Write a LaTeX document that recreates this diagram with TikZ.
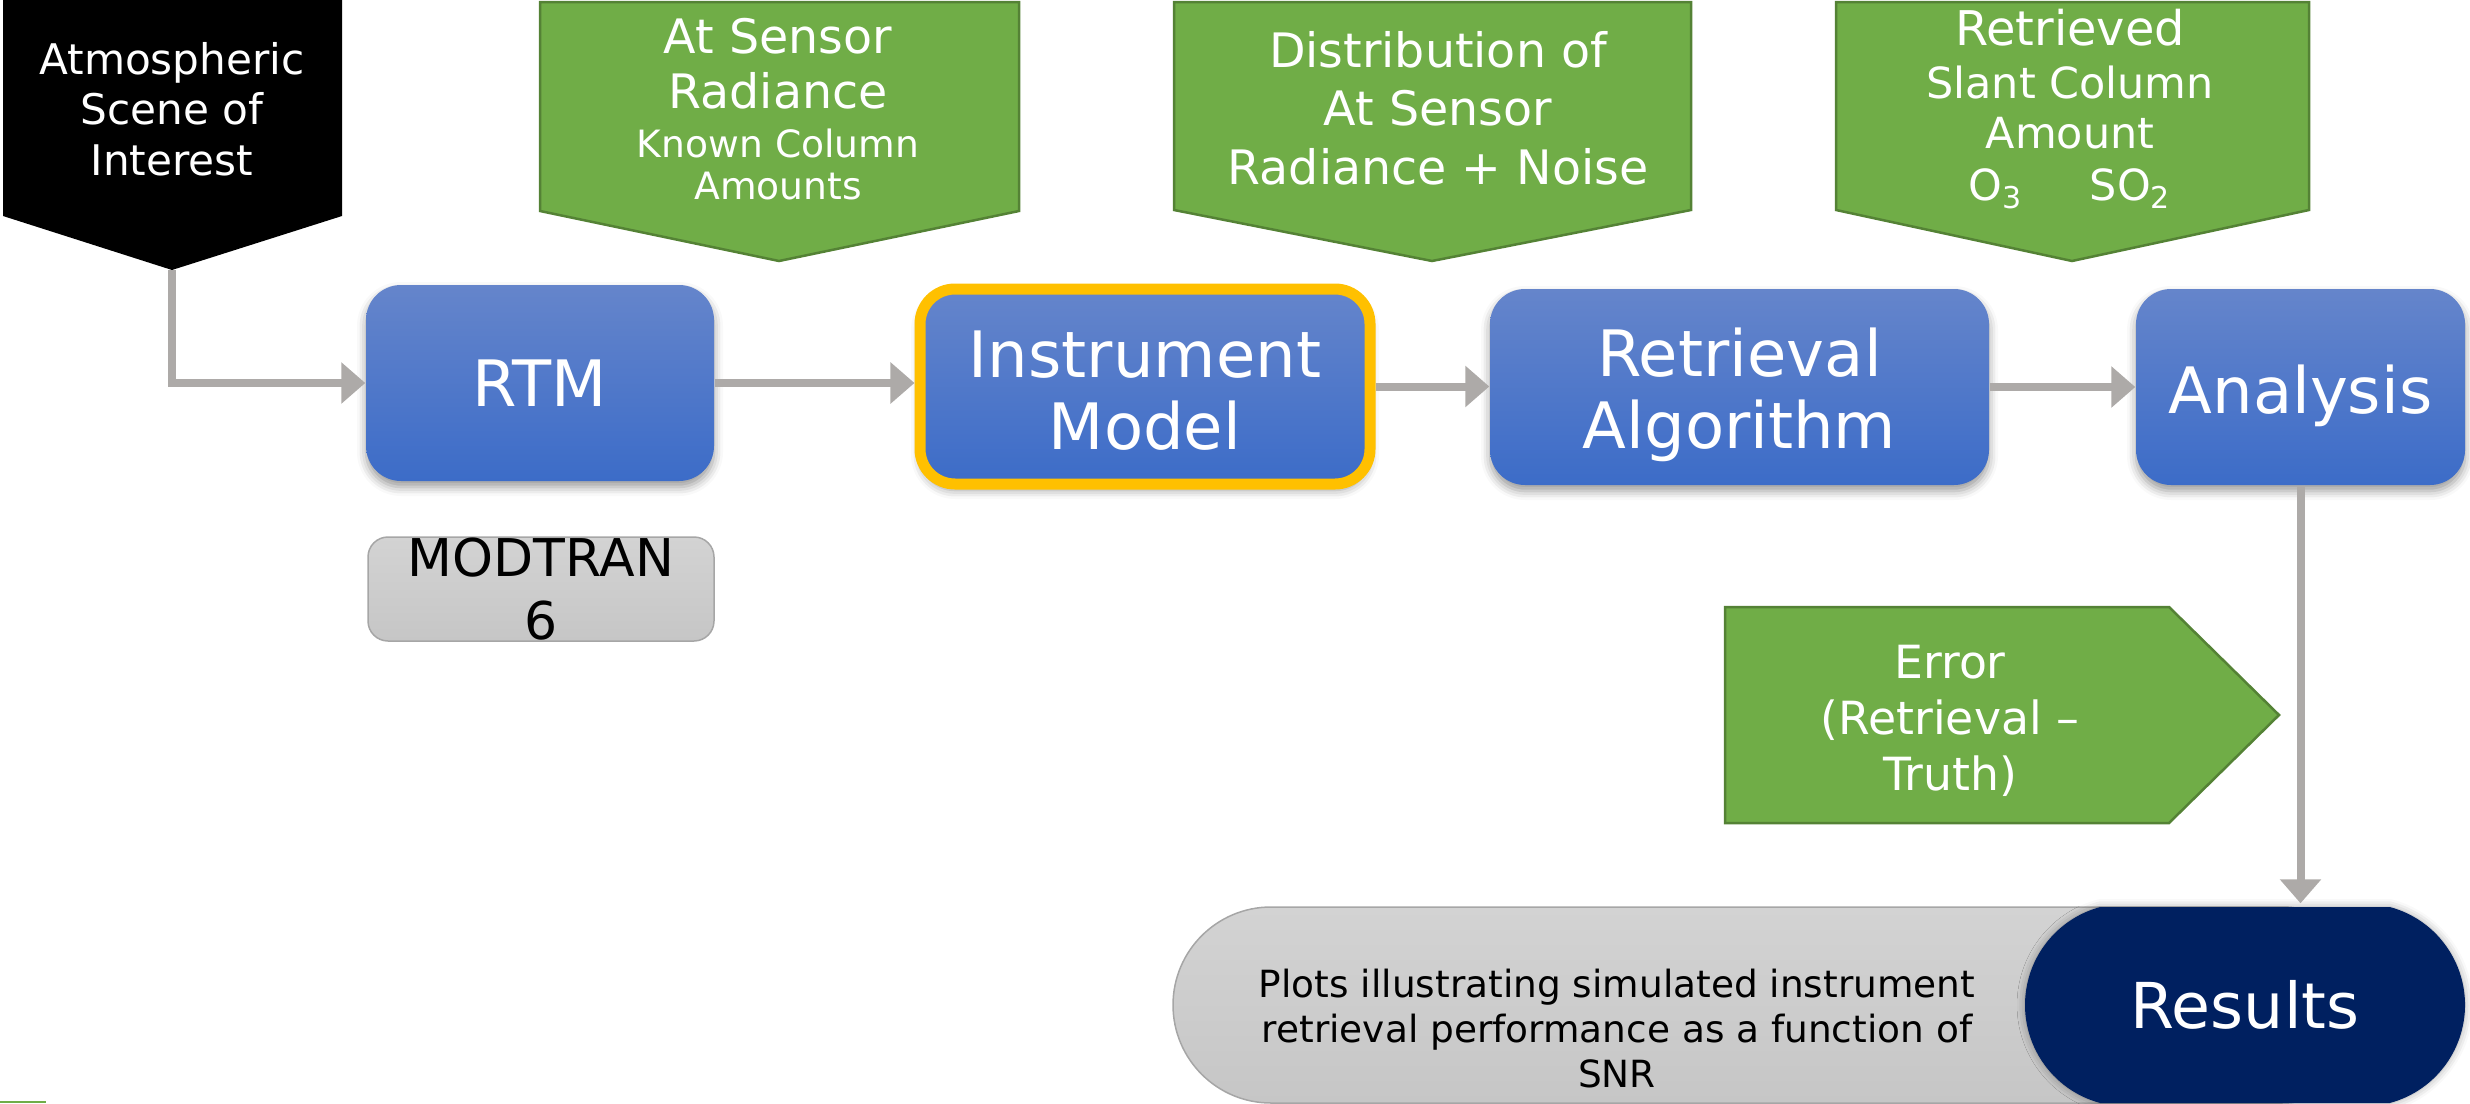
\documentclass[tikz,border=0pt]{standalone}
\usepackage{fontspec}
\setmainfont{DejaVu Sans}
\usetikzlibrary{arrows.meta, positioning, calc, shapes.misc, shadows.blur}

\newlength\px
\setlength\px{0.01cm}

\definecolor{boxtop}{HTML}{6585CB}
\definecolor{boxbot}{HTML}{3C6CC8}
\definecolor{taggreen}{HTML}{70AD47}
\definecolor{tagedge}{HTML}{548235}
\definecolor{focusyellow}{HTML}{FFC000}
\definecolor{flowgray}{HTML}{ADAAA8}
\definecolor{navy}{HTML}{002060}
\definecolor{capsuletop}{HTML}{D3D3D3}
\definecolor{capsulebot}{HTML}{C6C6C6}
\definecolor{capsuleedge}{HTML}{A6A6A6}

\newcommand\boxfont{\fontsize{18.2}{20.6}\selectfont}
\newcommand\tagbig{\fontsize{13.5}{15.7}\selectfont}
\newcommand\tagsmall{\fontsize{10.7}{12.5}\selectfont}
\newcommand\tagmid{\fontsize{12.2}{14.8}\selectfont}

\begin{document}
\begin{tikzpicture}[
    x=0.01cm, y=-0.01cm,
    procbox/.style={rectangle, rounded corners=35\px, inner sep=0pt,
        top color=boxtop, bottom color=boxbot, text=white, align=center, font=\boxfont,
        minimum height=196\px,
        blur shadow={shadow xshift=0pt, shadow yshift=-6\px, shadow blur radius=9\px, shadow opacity=40}},
    tag/.style={fill=taggreen, draw=tagedge, line width=2.5\px},
    tagtext/.style={text=white, align=center, inner sep=0pt},
    flow/.style={draw=flowgray, line width=0.08cm, -{Triangle[length=0.24cm, width=0.4cm]}}
]
\useasboundingbox (0,0) rectangle (2470,1103);

% input scene and the green output tags
\fill[black] (3,0) -- (342,0) -- (342,216) -- (172,270) -- (3,216) -- cycle;
\coordinate (scenetip) at (172,270);
\node[tagtext, font=\fontsize{12}{14.3}\selectfont] (scene) at (172,109)
    {Atmospheric\\Scene of\\Interest};

\draw[tag] (540,2) -- (1019,2) -- (1019,211) -- (779,261) -- (540,211) -- cycle;
\node[tagtext, font=\tagbig] (sensor) at (778,109)
    {At Sensor\\Radiance\\[-1.8pt]\tagsmall Known Column\\[-3.6pt]\tagsmall Amounts};

\draw[tag] (1174,2) -- (1691,2) -- (1691,210) -- (1432,261) -- (1174,210) -- cycle;
\node[tagtext, font=\fontsize{13.5}{16.6}\selectfont] (noise) at (1438,108)
    {Distribution of\\At Sensor\\Radiance + Noise};

\draw[tag] (1836,2) -- (2309,2) -- (2309,210) -- (2072,261) -- (1836,210) -- cycle;
\node[tagtext, font=\fontsize{13.6}{14.8}\selectfont] (slant) at (2070,109)
    {Retrieved\\[0.4pt]\tagmid Slant Column\\[-0.5pt]\tagmid Amount\\
     \tagmid O\textsubscript{3}\hspace{19pt}SO\textsubscript{2}};

\draw[tag] (1725,607) -- (2169,607) -- (2279,715) -- (2169,823) -- (1725,823) -- cycle;
\node[tagtext, font=\fontsize{13}{16}\selectfont] (error) at (1950,721)
    {Error\\(Retrieval --\\Truth)};

% processing chain
\node[procbox, minimum width=348\px] (rtm) at (540,383) {RTM};
\node[procbox, minimum width=450\px, minimum height=195\px, draw=focusyellow, line width=11\px]
    (instr) at (1145,386.5) {\rule{0pt}{15.5pt}Instrument\\Model};
\node[procbox, minimum width=499\px] (retr) at (1739.5,387) {\rule{0pt}{18.2pt}Retrieval\\Algorithm};
\node[procbox, minimum width=329\px] (ana) at (2300.5,387) {\rule{0pt}{19pt}Analysis};

\node[rectangle, rounded corners=20\px, minimum width=346\px, minimum height=104\px,
    inner sep=0pt, top color=capsuletop, bottom color=capsulebot, draw=capsuleedge,
    line width=1.5\px, align=center, font=\fontsize{14.8}{17.9}\selectfont]
    (modtran) at (541,589) {MODTRAN\\6};

% results
\node[rounded rectangle, minimum width=1207\px, minimum height=196\px, inner sep=0pt,
    top color=capsuletop, bottom color=capsulebot, draw=capsuleedge, line width=1.5\px]
    (plots) at (1776.5,1005) {};
\node[align=center, font=\fontsize{10.65}{12.8}\selectfont] (plotstext) at (1617,1029)
    {Plots illustrating simulated instrument\\retrieval performance as a function of\\SNR};
\node[rounded rectangle, rounded rectangle arc length=150, minimum width=440\px,
    minimum height=196\px, inner sep=0pt, fill=navy, text=white,
    font=\fontsize{18}{21}\selectfont,
    blur shadow={shadow xshift=0pt, shadow yshift=0pt, shadow blur radius=8\px, shadow opacity=35}]
    (results) at (2245,1005) {Results};

\fill[taggreen] (0,1101) rectangle (46,1103);

\draw[flow] (scenetip) |- (rtm.west);
\draw[flow] (rtm.east) -- (rtm.east -| instr.west);
\draw[flow] (instr.east) -- (instr.east -| retr.west);
\draw[flow] (retr.east) -- (retr.east -| ana.west);
\draw[flow] (ana.south) -- ($(ana.south |- results.north)+(0,-3)$);

\end{tikzpicture}
\end{document}
